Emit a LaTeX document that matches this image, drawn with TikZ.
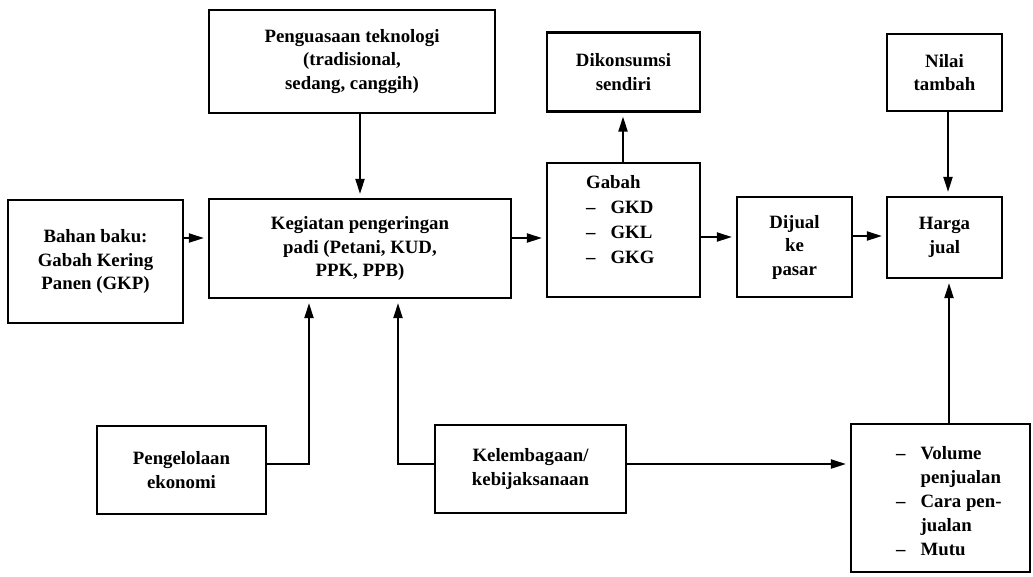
\documentclass[tikz,border=0pt]{standalone}
\usepackage{fontspec}
\setmainfont{Liberation Serif}
\usetikzlibrary{arrows.meta}
\tikzset{
  box/.style={draw, line width=2.2pt, align=center, inner sep=2pt,
    font=\fontsize{18.8}{23.5}\selectfont\bfseries},
  lbl/.style={inner sep=0pt, font=\fontsize{18.8}{23.5}\selectfont\bfseries},
  arr/.style={line width=2.2pt, -{Triangle[length=15pt,width=9pt]}, shorten >=4pt},
  ln/.style={line width=2.2pt}
}
\begin{document}
\begin{tikzpicture}[x=1pt,y=-1pt]
\useasboundingbox (0,0) rectangle (1033,576);
% boxes
\node[box, minimum width=286pt, minimum height=103pt] (pen) at (352,61.5)
  {Penguasaan teknologi\\(tradisional,\\sedang, canggih)};
\node[box, minimum width=302pt, minimum height=99pt] (keg) at (360,248.5)
  {Kegiatan pengeringan\\padi (Petani, KUD,\\PPK, PPB)};
\node[box, minimum width=175pt, minimum height=123pt] (bahan) at (95.5,261.5)
  {Bahan baku:\\Gabah Kering\\Panen (GKP)};
\node[box, minimum width=153pt, minimum height=79pt] (dik) at (623.5,72)
  {Dikonsumsi\\sendiri};
\node[box, minimum width=153pt, minimum height=134pt] (gab) at (623.5,230) {};
\node[lbl, anchor=west] (gabtxt) at (586,221)
  {\def\arraystretch{1.07}\begin{tabular}{@{}l@{\hspace{15pt}}l@{}}
   \multicolumn{2}{@{}l@{}}{Gabah}\\
   -- & GKD\\ -- & GKL\\ -- & GKG
   \end{tabular}};
\node[box, minimum width=115pt, minimum height=100pt] (dij) at (794.5,247)
  {Dijual\\ke\\pasar};
\node[box, minimum width=115pt, minimum height=81pt] (har) at (944.5,237.5)
  {Harga\\jual};
\node[box, minimum width=115pt, minimum height=77pt] (nil) at (944.5,72.5)
  {Nilai\\tambah};
\node[box, minimum width=169pt, minimum height=88pt] (pengel) at (181.5,470)
  {Pengelolaan\\ekonomi};
\node[box, minimum width=191pt, minimum height=88pt] (kel) at (530.5,469)
  {Kelembagaan/\\kebijaksanaan};
\node[box, minimum width=179pt, minimum height=148pt] (vol) at (940.5,498) {};
\node[lbl, anchor=west] (voltxt) at (896,503)
  {\def\arraystretch{1.02}\begin{tabular}{@{}l@{\hspace{15pt}}l@{}}
   -- & Volume\\ & penjualan\\ -- & Cara pen-\\ & jualan\\ -- & Mutu
   \end{tabular}};
% helper coordinates
\coordinate (ya) at (0,238);
\coordinate (yb) at (0,237);
\coordinate (yc) at (0,236);
\coordinate (ym) at (0,464);
\coordinate (xa) at (309,0);
\coordinate (xb) at (398,0);
\coordinate (xg) at (623,0);
\coordinate (xn) at (948,0);
\coordinate (xv) at (949,0);
% connectors
\draw[arr] (keg.north |- pen.south) -- (keg.north);
\draw[arr] (bahan.east |- ya) -- (keg.west |- ya);
\draw[arr] (keg.east |- ya) -- (gab.west |- ya);
\draw[arr] (xg |- gab.north) -- (xg |- dik.south);
\draw[arr] (gab.east |- yb) -- (dij.west |- yb);
\draw[arr] (dij.east |- yc) -- (har.west |- yc);
\draw[arr] (xn |- nil.south) -- (xn |- har.north);
\draw[arr] (xv |- vol.north) -- (xv |- har.south);
\draw[arr] (pengel.east |- ym) -| (xa |- keg.south);
\draw[arr] (kel.west |- ym) -| (xb |- keg.south);
\draw[arr] (kel.east |- ym) -- (vol.west |- ym);
\end{tikzpicture}
\end{document}
